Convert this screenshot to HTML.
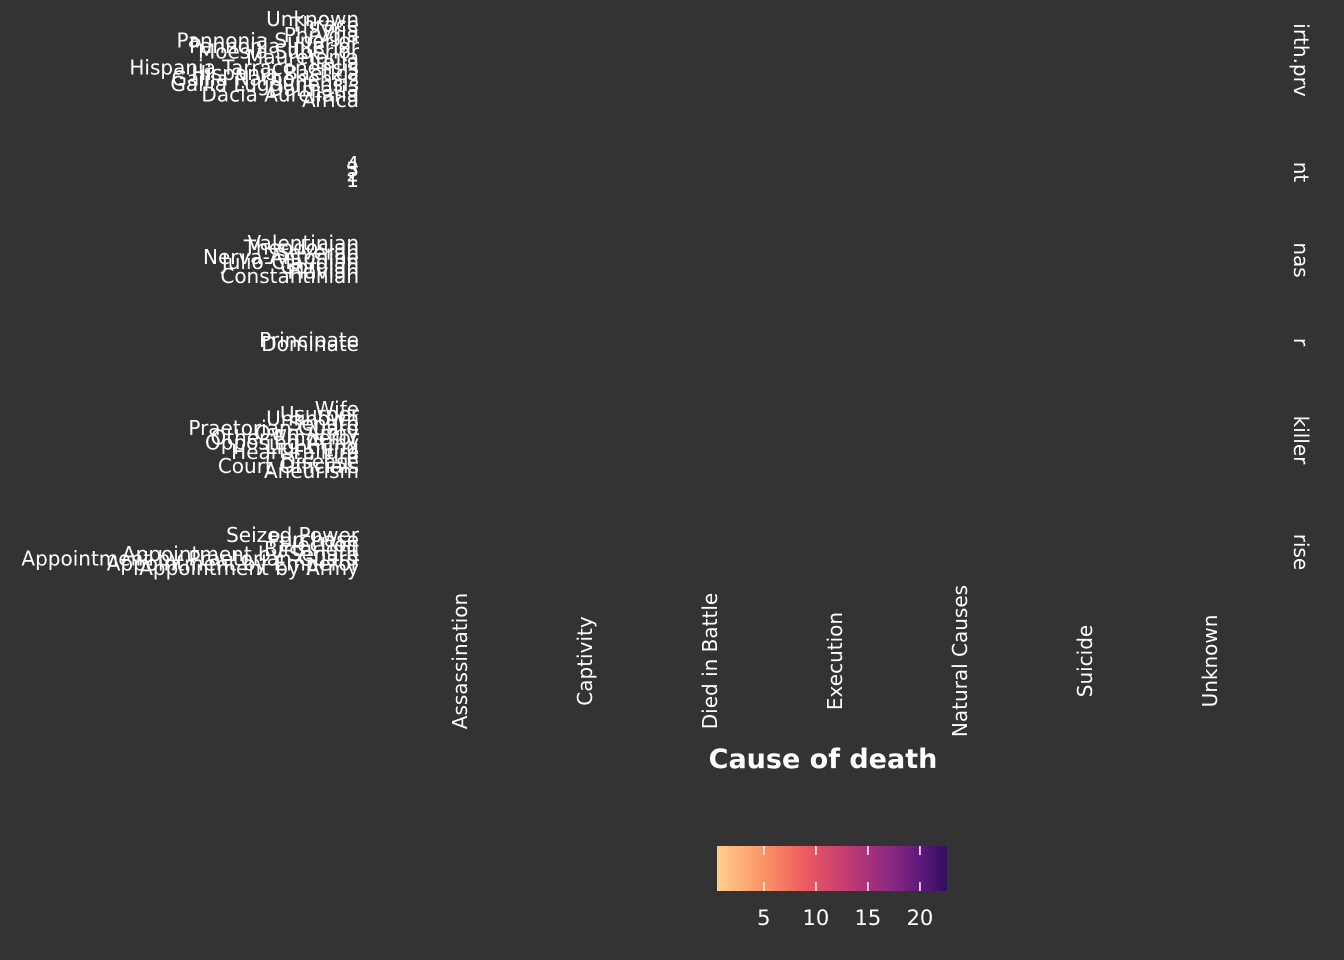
<!DOCTYPE html>
<html><head><meta charset="utf-8"><style>
html,body{margin:0;padding:0;background:#333333;}
svg{display:block;font-family:"DejaVu Sans","Liberation Sans",sans-serif;}
</style></head><body>
<svg id="chart" width="1344" height="960">
<rect width="1344" height="960" fill="#333333"/>
<defs>
<linearGradient id="magma" x1="0" x2="1" y1="0" y2="0">
<stop offset="0" stop-color="#fecf8f"/>
<stop offset="0.2" stop-color="#fc9466"/>
<stop offset="0.38" stop-color="#ec5c5e"/>
<stop offset="0.55" stop-color="#c83c71"/>
<stop offset="0.75" stop-color="#8c2981"/>
<stop offset="0.9" stop-color="#5a167a"/>
<stop offset="1" stop-color="#2f0f5f"/>
</linearGradient>
</defs>
<g id="ylabels"></g>
<g id="xlabels"></g>
<g id="strips"></g>
<text x="823" y="768" text-anchor="middle" font-size="27" font-weight="bold" fill="#ffffff">Cause of death</text>
<g id="legend"></g>
</svg>
<script>
const causes = ["Assassination","Captivity","Died in Battle","Execution","Natural Causes","Suicide","Unknown"];
const birthPrv = ["Africa","Dacia Aureliana","Dalmatia","Gallia Lugdunensis","Gallia Narbonensis","Hispania Baetica","Hispania Tarraconensis","Italia","Mauretania","Moesia Superior","Pannonia Inferior","Pannonia Superior","Phrygia","Syria","Thrace","Unknown"];
const indexVals = ["1","2","3","4"];
const dynasties = ["Constantinian","Flavian","Gordian","Julio-Claudian","Nerva-Antonine","Severan","Theodosian","Valentinian"];
const eras = ["Dominate","Principate"];
const killers = ["Aneurism","Court Officials","Disease","Fire","Heart Failure","Lightning","Opposing Army","Other Emperor","Own Army","Praetorian Guard","Senate","Unknown","Usurper","Wife"];
const rises = ["Appointment by Army","Appointment by Emperor","Appointment by Praetorian Guard","Appointment by Senate","Birthright","Election","Purchase","Seized Power"];
const stripLabels = ["irth.prv","nt","nas","r","killer","rise"];
const legendTicks = [5,10,15,20];
const legendRange = [0.5,22.6];

const NS="http://www.w3.org/2000/svg";
function mk(tag,attrs,parent){const e=document.createElementNS(NS,tag);for(const k in attrs)e.setAttribute(k,attrs[k]);parent.appendChild(e);return e;}

const panels=[[birthPrv,100,19,60],[indexVals,180,164,172],[dynasties,276,243,260],[eras,344,340,342],[killers,471,409,440],[rises,568,535,552]];
const yl=document.getElementById('ylabels');
panels.forEach((p,pi)=>{
  const labs=p[0],n=labs.length;
  labs.forEach((l,i)=>{
    const y=n>1?p[1]+(p[2]-p[1])*i/(n-1):p[1];
    const t=mk('text',{x:359,y:y+7,'text-anchor':'end','font-size':20,fill:'#ffffff'},yl);
    
    
    t.textContent=l;
  });
  const st=document.getElementById('strips');
  const s=mk('text',{x:1294,y:p[3],'text-anchor':'middle','font-size':20,fill:'#ffffff',transform:`rotate(90 1294 ${p[3]})`},st);
  
  
  s.textContent=stripLabels[pi];
});

const xl=document.getElementById('xlabels');
const xScale=i=>460+i*125;
causes.forEach((c,i)=>{
  const x=xScale(i)+7;
  const t=mk('text',{x:x,y:661,'text-anchor':'middle','font-size':20,fill:'#ffffff',transform:`rotate(-90 ${x} 661)`},xl);
  
  
  t.textContent=c;
});

const lg=document.getElementById('legend');
const lx=v=>717+(v-legendRange[0])/(legendRange[1]-legendRange[0])*230;
const bar=mk('rect',{x:717,y:846,width:230,height:45,fill:'url(#magma)'},lg);


legendTicks.forEach(v=>{
  const x=lx(v);
  mk('line',{x1:x,x2:x,y1:846,y2:855,stroke:'#fff','stroke-width':1.5},lg);
  mk('line',{x1:x,x2:x,y1:882,y2:891,stroke:'#fff','stroke-width':1.5},lg);
  const t=mk('text',{x:x,y:925,'text-anchor':'middle','font-size':21,fill:'#ffffff'},lg);
  
  
  t.textContent=v;
});
</script>
</body></html>
